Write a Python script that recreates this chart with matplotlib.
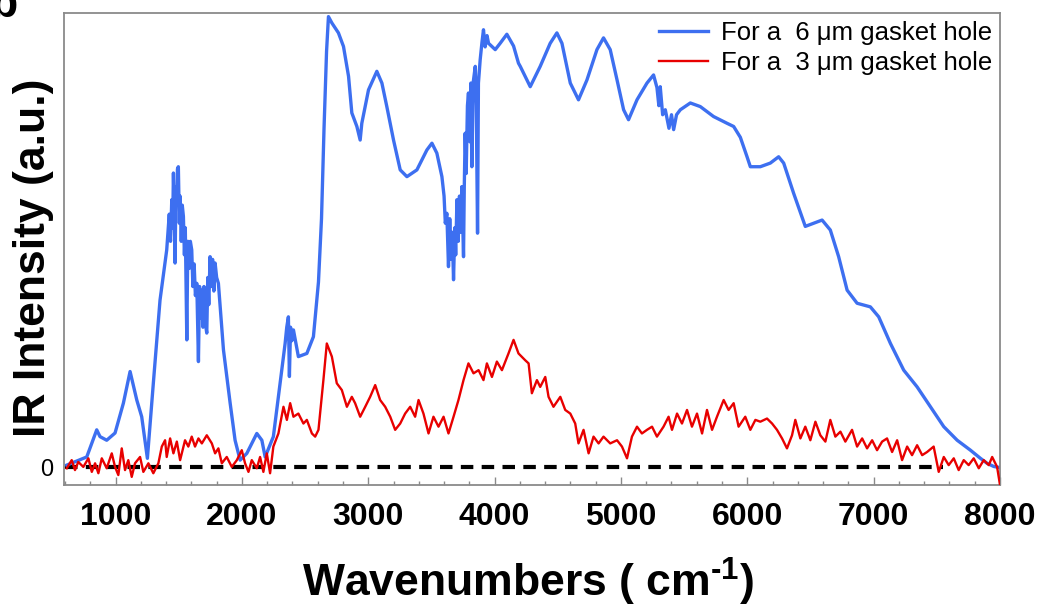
"""IR intensity spectra for 6 um and 3 um gasket holes."""

import matplotlib
matplotlib.use("Agg")
import matplotlib.pyplot as plt
from matplotlib.ticker import MultipleLocator

plt.rcParams["font.family"] = ["Liberation Sans", "DejaVu Sans"]
plt.rcParams["mathtext.fontset"] = "custom"
plt.rcParams["mathtext.bf"] = "Liberation Sans:bold"
plt.rcParams["mathtext.rm"] = "Liberation Sans:bold"

# 6 um gasket hole (blue)
WN_6UM = [
    614, 772, 851, 877, 930, 996, 1062, 1115, 1168, 1207, 1252, 1299, 1352,
    1405, 1425, 1435, 1445, 1452, 1458, 1465, 1471, 1478, 1485, 1490, 1497,
    1505, 1511, 1520, 1528, 1537, 1545, 1552, 1564, 1572, 1583, 1592, 1603,
    1612, 1622, 1632, 1643, 1656, 1665, 1675, 1683, 1692, 1700, 1710, 1722,
    1730, 1738, 1748, 1758, 1768, 1778, 1788, 1800, 1814, 1854, 1907, 1946,
    1986, 2039, 2118, 2158, 2184, 2249, 2302, 2342, 2355, 2368, 2376, 2385,
    2395, 2408, 2447, 2514, 2566, 2606, 2630, 2650, 2670, 2685, 2712, 2764,
    2804, 2844, 2870, 2910, 2936, 2949, 3002, 3068, 3108, 3147, 3200, 3253,
    3306, 3385, 3464, 3504, 3543, 3583, 3600, 3610, 3622, 3635, 3645, 3655,
    3665, 3675, 3685, 3692, 3702, 3712, 3722, 3730, 3741, 3754, 3760, 3767,
    3775, 3785, 3793, 3805, 3812, 3820, 3830, 3847, 3855, 3865, 3872, 3886,
    3900, 3912, 3925, 3940, 3952, 4005, 4044, 4097, 4150, 4189, 4203, 4282,
    4361, 4440, 4493, 4533, 4599, 4664, 4731, 4810, 4862, 4915, 4969, 5021,
    5060, 5127, 5206, 5258, 5285, 5300, 5311, 5330, 5351, 5380, 5400, 5417,
    5440, 5470, 5549, 5628, 5733, 5840, 5892, 5945, 5998, 6024, 6103, 6182,
    6248, 6288, 6367, 6459, 6525, 6592, 6657, 6723, 6790, 6869, 6974, 7040,
    7133, 7238, 7344, 7449, 7555, 7661, 7766, 7845, 7898, 7950, 7990,
]
I_6UM = [
    0.005, 0.023, 0.083, 0.068, 0.060, 0.076, 0.142, 0.212, 0.149, 0.112,
    0.020, 0.186, 0.370,
    0.481, 0.560, 0.500, 0.592, 0.530, 0.651, 0.560, 0.452, 0.620, 0.580,
    0.660, 0.665, 0.540, 0.600, 0.500, 0.580, 0.555, 0.470, 0.530, 0.282,
    0.500, 0.440, 0.500, 0.481, 0.400, 0.450, 0.380, 0.407, 0.234, 0.400,
    0.330, 0.392, 0.310, 0.400, 0.320, 0.297, 0.420, 0.360, 0.466, 0.400,
    0.460, 0.390, 0.452, 0.420, 0.407, 0.260, 0.142, 0.060, 0.016, 0.031,
    0.075, 0.060, 0.023, 0.068, 0.186, 0.274, 0.310, 0.333, 0.201, 0.310,
    0.280, 0.304, 0.245, 0.252, 0.289, 0.410, 0.550, 0.750, 0.920, 0.997,
    0.983, 0.961, 0.931, 0.865, 0.784, 0.754, 0.724, 0.761, 0.835, 0.876,
    0.850, 0.798, 0.724, 0.658, 0.643, 0.658, 0.702, 0.717, 0.695, 0.643,
    0.600, 0.540, 0.562, 0.444, 0.550, 0.460, 0.520, 0.415, 0.530, 0.470,
    0.592, 0.500, 0.600, 0.520, 0.621, 0.466, 0.620, 0.739, 0.650, 0.800,
    0.828, 0.720, 0.850, 0.665, 0.850, 0.887, 0.800, 0.518, 0.850, 0.902,
    0.940, 0.968, 0.930, 0.955, 0.938, 0.924, 0.938, 0.958, 0.932, 0.894,
    0.887, 0.842, 0.887, 0.938, 0.961, 0.938, 0.850, 0.813, 0.857, 0.924,
    0.950, 0.924, 0.857, 0.791, 0.769, 0.813, 0.850, 0.868, 0.840, 0.800,
    0.842, 0.780, 0.791, 0.750, 0.780, 0.747, 0.780, 0.791, 0.806, 0.798,
    0.776, 0.761, 0.754, 0.730, 0.687, 0.665, 0.665, 0.673, 0.687, 0.673,
    0.606, 0.533, 0.540, 0.547, 0.525, 0.466, 0.392, 0.363, 0.355, 0.333,
    0.274, 0.215, 0.178, 0.134, 0.090, 0.060, 0.038, 0.020, 0.009, 0.002,
    0.000,
]

# 3 um gasket hole (red)
WN_3UM = [
    614, 653, 679, 705, 745, 785, 812, 838, 864, 891, 930, 970, 996, 1022,
    1049, 1075, 1101, 1128, 1154, 1194, 1220, 1260, 1299, 1339, 1366, 1392,
    1405, 1432, 1458, 1485, 1511, 1550, 1576, 1603, 1629, 1656, 1683, 1722,
    1762, 1788, 1814, 1841, 1880, 1920, 1960, 1999, 2025, 2052, 2078, 2118,
    2144, 2170, 2197, 2223, 2249, 2289, 2329, 2356, 2382, 2408, 2447, 2487,
    2514, 2554, 2580, 2606, 2645, 2672, 2712, 2751, 2791, 2831, 2870, 2896,
    2936, 2976, 3015, 3055, 3094, 3134, 3174, 3213, 3253, 3292, 3332, 3371,
    3398, 3437, 3477, 3516, 3556, 3596, 3635, 3675, 3714, 3754, 3793, 3833,
    3873, 3912, 3939, 3979, 4018, 4058, 4110, 4150, 4189, 4242, 4269, 4295,
    4335, 4361, 4401, 4427, 4466, 4520, 4559, 4599, 4638, 4664, 4704, 4744,
    4783, 4823, 4862, 4915, 4969, 5008, 5048, 5087, 5127, 5166, 5206, 5246,
    5285, 5337, 5377, 5404, 5444, 5483, 5523, 5562, 5602, 5642, 5681, 5721,
    5760, 5813, 5852, 5892, 5931, 5984, 6024, 6064, 6103, 6156, 6196, 6235,
    6275, 6314, 6354, 6380, 6420, 6459, 6499, 6539, 6578, 6618, 6657, 6697,
    6737, 6776, 6829, 6869, 6909, 6948, 6988, 7027, 7067, 7106, 7146, 7186,
    7225, 7265, 7304, 7344, 7384, 7423, 7475, 7515, 7555, 7594, 7634, 7673,
    7713, 7752, 7792, 7832, 7871, 7911, 7938, 7977, 8000,
]
I_3UM = [
    -0.002, 0.016, -0.006, 0.012, 0.001, 0.020, -0.010, 0.009, -0.013, 0.020,
    -0.002, 0.031, 0.001, -0.017, 0.042, -0.006, 0.016, -0.021, 0.009, 0.023,
    -0.010, 0.009, -0.013, 0.009, 0.046, 0.060, 0.023, 0.064, 0.031, 0.057,
    0.016, 0.060, 0.046, 0.068, 0.046, 0.064, 0.053, 0.071, 0.053, 0.031,
    0.042, 0.009, 0.023, 0.001, 0.016, 0.038, 0.009, -0.010, 0.016, -0.002,
    0.023, -0.010, 0.031, -0.013, 0.046, 0.075, 0.134, 0.105, 0.142, 0.112,
    0.119, 0.097, 0.105, 0.075, 0.068, 0.083, 0.193, 0.274, 0.245, 0.186,
    0.171, 0.134, 0.156, 0.142, 0.112, 0.134, 0.156, 0.182, 0.149, 0.134,
    0.112, 0.083, 0.097, 0.119, 0.134, 0.112, 0.149, 0.119, 0.075, 0.112,
    0.090, 0.112, 0.075, 0.112, 0.149, 0.193, 0.230, 0.208, 0.215, 0.193,
    0.230, 0.200, 0.234, 0.215, 0.252, 0.282, 0.252, 0.237, 0.230, 0.164,
    0.193, 0.178, 0.200, 0.156, 0.134, 0.156, 0.127, 0.119, 0.097, 0.053,
    0.083, 0.031, 0.068, 0.053, 0.068, 0.053, 0.060, 0.046, 0.020, 0.068,
    0.090, 0.075, 0.083, 0.090, 0.068, 0.090, 0.112, 0.083, 0.119, 0.097,
    0.127, 0.090, 0.119, 0.075, 0.127, 0.083, 0.112, 0.149, 0.127, 0.142,
    0.090, 0.112, 0.083, 0.105, 0.101, 0.108, 0.097, 0.083, 0.064, 0.042,
    0.071, 0.105, 0.064, 0.090, 0.060, 0.101, 0.071, 0.057, 0.105, 0.068,
    0.079, 0.057, 0.083, 0.046, 0.064, 0.042, 0.060, 0.038, 0.057, 0.064,
    0.034, 0.060, 0.016, 0.046, 0.027, 0.049, 0.027, 0.034, 0.046, -0.010,
    0.023, 0.005, 0.020, -0.006, 0.016, 0.005, 0.020, -0.002, 0.016, 0.005,
    0.023, 0.001, -0.039,
]

ZERO_X = [600, 7550]
ZERO_Y = [0, 0]

LABEL_6UM = "For a  6 μm gasket hole"
LABEL_3UM = "For a  3 μm gasket hole"

FRAME = "#8a8a8a"

fig = plt.figure(figsize=(10.4, 6.14), dpi=100)
ax = fig.add_axes([64 / 1040, 1 - 485 / 614, 936 / 1040, 472 / 614])

ax.plot(ZERO_X, ZERO_Y, color="black", linewidth=3, dashes=(3, 2), zorder=1)
ax.plot(WN_6UM, I_6UM, color="#3d6ff0", linewidth=2.4, label=LABEL_6UM, zorder=2)
ax.plot(WN_3UM, I_3UM, color="#e80000", linewidth=1.7, label=LABEL_3UM, zorder=3)

ax.set_xlim(592, 8000)
ax.set_ylim(-0.039, 1.005)

ax.xaxis.set_major_locator(MultipleLocator(1000))
ax.xaxis.set_minor_locator(MultipleLocator(200))
ax.set_yticks([0])
ax.set_yticklabels(["0"])
ax.tick_params(axis="x", which="major", direction="in", length=6, width=1,
               color=FRAME, labelsize=23, pad=12)
ax.tick_params(axis="x", which="minor", direction="in", length=3, width=1,
               color=FRAME)
ax.tick_params(axis="y", length=0, labelsize=17, pad=8)
for lab in ax.get_xticklabels():
    lab.set_fontweight("bold")
ax.xaxis.set_ticks_position("bottom")

for sp in ax.spines.values():
    sp.set_color(FRAME)
    sp.set_linewidth(1.3)

ax.set_xlabel(r"Wavenumbers ( cm$^{\text{-1}}$)", fontsize=32, fontweight="bold")
ax.xaxis.set_label_coords(0.4957, -0.150)
ax.set_ylabel("IR Intensity (a.u.)", fontsize=32, fontweight="bold")
ax.yaxis.set_label_coords(-0.0112, 0.482)

ax.legend(loc="upper right", bbox_to_anchor=(1.0, 1.0), frameon=False,
          fontsize=18.5, handlelength=1.9, handletextpad=0.5, labelspacing=0.25,
          borderpad=0.2, borderaxespad=0.1)

fig.text(-10 / 1040, 1 - 17 / 614, "b", fontsize=32, fontweight="bold",
         va="baseline", ha="left")

fig.savefig("out.png", dpi=100)
